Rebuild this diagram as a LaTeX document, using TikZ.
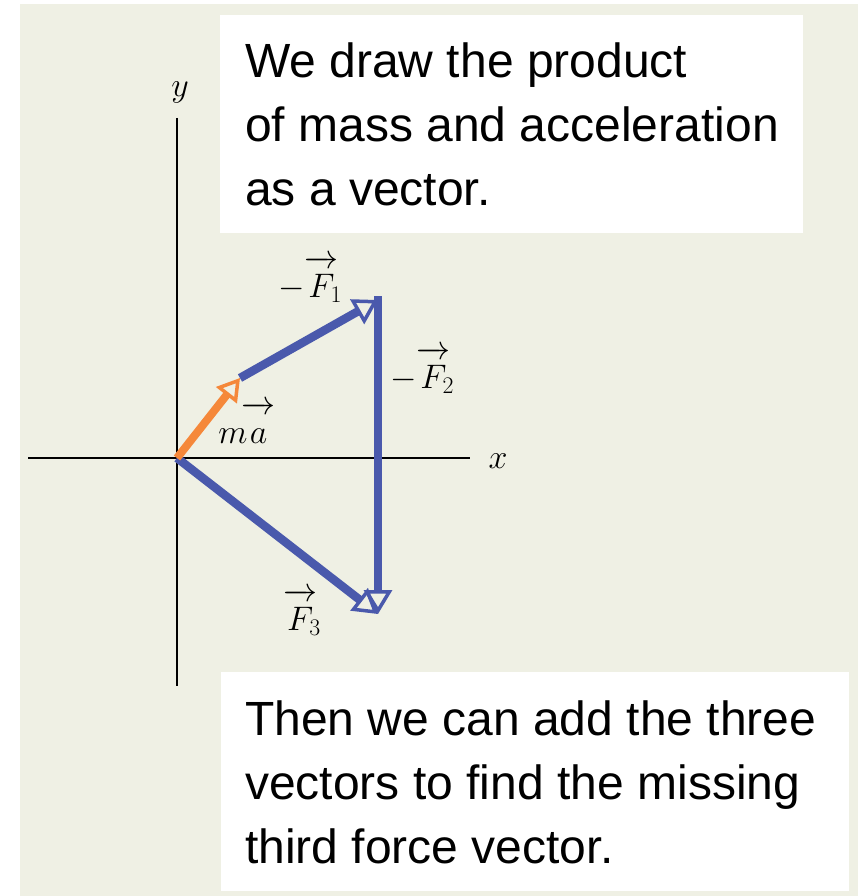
\RequirePackage{fix-cm}
\documentclass[tikz,border=0pt]{standalone}
\usepackage{amsmath}
\usepackage[no-math]{fontspec}
\setmainfont{Liberation Sans}
\usetikzlibrary{positioning,arrows.meta}
\definecolor{paper}{HTML}{EFF0E4}
\definecolor{vecblue}{HTML}{4A59AC}
\definecolor{vecorange}{HTML}{F5883A}
\newcommand{\vecarr}[1]{\overrightarrow{\rule{0pt}{0.86em}#1}}

\begin{document}
\begin{tikzpicture}[
    x=1pt, y=-1pt,
    axis/.style={black, line width=2.8pt},
    forcev/.style={vecblue, line width=8.5pt, -{Triangle[open, length=24pt, width=28pt, line width=3.5pt]}},
    accv/.style={vecorange, line width=8pt, -{Triangle[open, length=22pt, width=26pt, line width=3.5pt]}},
    note/.style={fill=white, anchor=north west, inner sep=0pt},
    txt/.style={anchor=north west, align=left, inner sep=0pt, font=\fontsize{48}{64}\selectfont},
    lbl/.style={font=\fontsize{34}{34}\selectfont, inner sep=0pt},
  ]
  \useasboundingbox[fill=white] (0,0) rectangle (866,896);
  \fill[paper] (20,4) rectangle (858,896);

  % text panels
  \node[note, minimum width=583pt, minimum height=218pt] (box1) at (220,15) {};
  \node[txt] (t1) at (245,43) {We draw the product\\of mass and acceleration\\as a vector.};
  \node[note, minimum width=628pt, minimum height=219pt] (box2) at (221,672) {};
  \node[txt] (t2) at (245,701) {Then we can add the three\\vectors to find the missing\\third force vector.};

  % axes
  \coordinate (xl) at (28,458);
  \coordinate (xr) at (470,458);
  \coordinate (yt) at (177,118);
  \coordinate (yb) at (177,686);
  \draw[axis] (xl) -- (xr);
  \draw[axis] (yt) -- (yb);
  \node[lbl] (xlab) at (498,461) {$x$};
  \node[lbl] (ylab) at (180,92) {$y$};

  % vector polygon
  \coordinate (O) at (177,458);
  \coordinate (A) at (240,378);
  \coordinate (B) at (378,300);
  \coordinate (C) at (378,614);
  \draw[forcev] (A) -- (B);
  \draw[forcev, shorten <=-4pt] (B) -- (C);
  \draw[forcev] (O) -- (C);
  \draw[accv] (O) -- (A);

  \node[lbl] (lf1) at (310,279) {$-\vecarr{F}_{\!\!1}$};
  \node[lbl] (lf2) at (422,370) {$-\vecarr{F}_{\!\!2}$};
  \node[lbl] (lma) at (247,423) {$m\!\vecarr{a}$};
  \node[lbl] (lf3) at (302,612) {$\vecarr{F}_{\!\!3}$};
\end{tikzpicture}
\end{document}
